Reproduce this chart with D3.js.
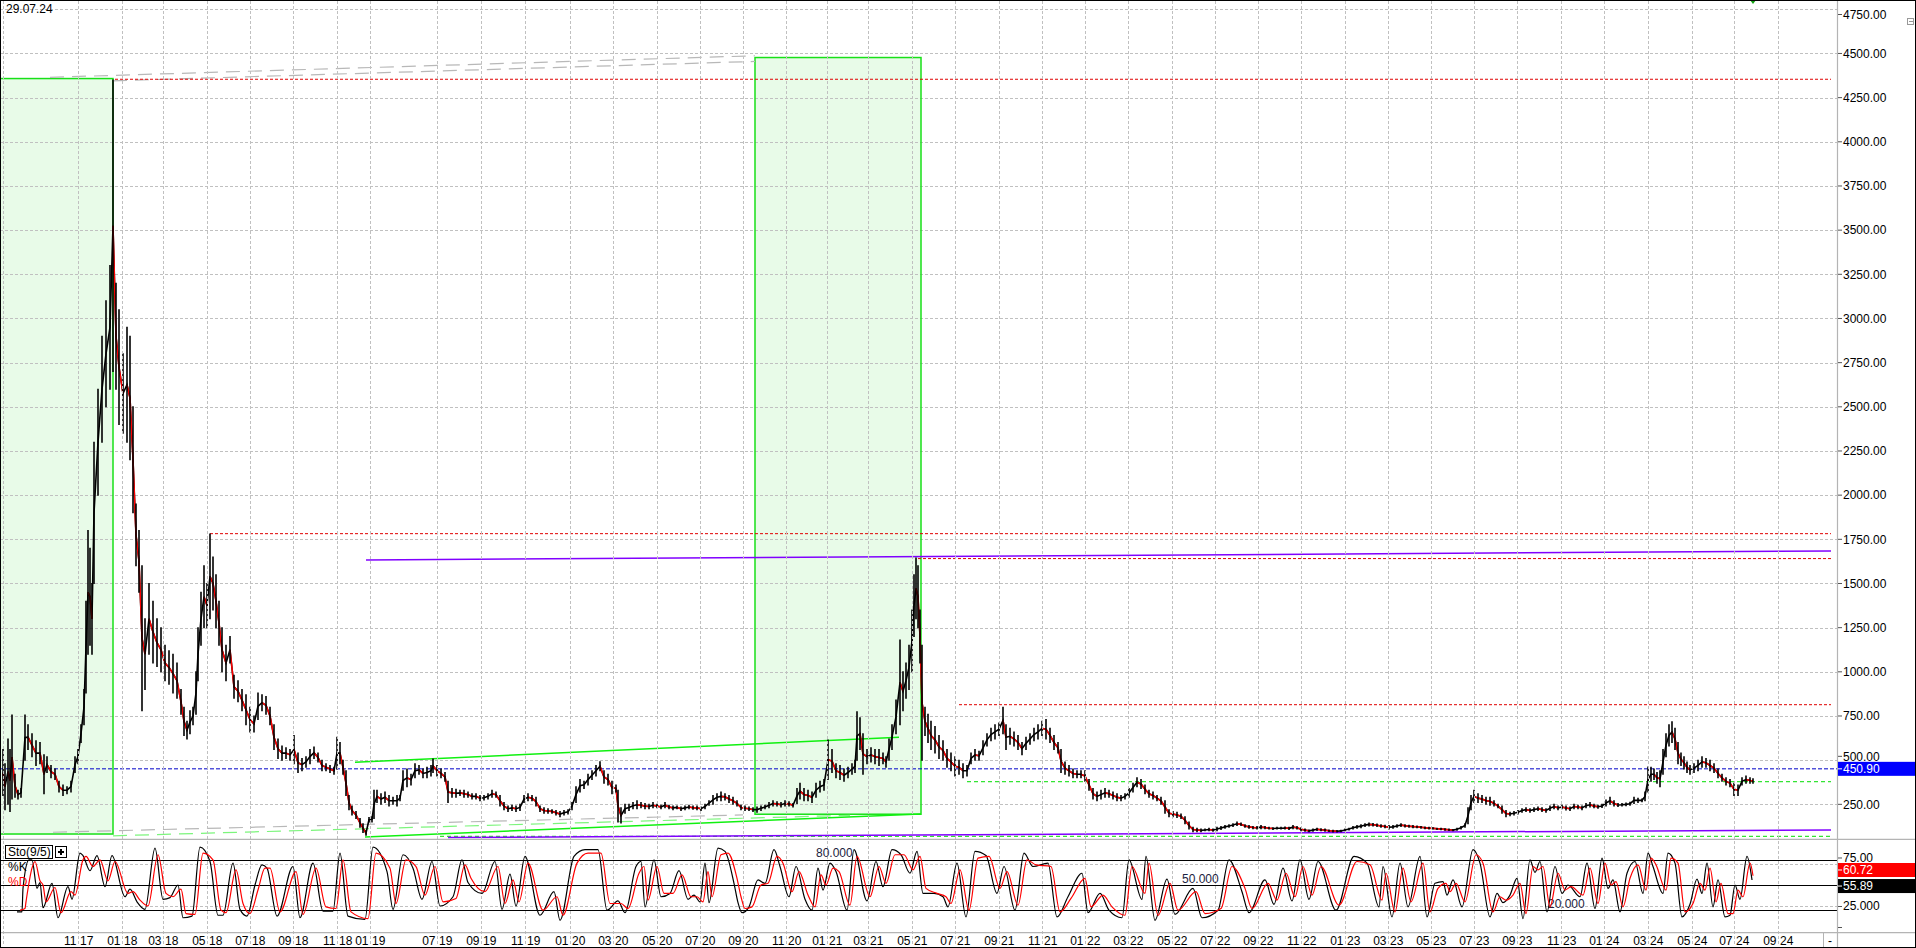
<!DOCTYPE html>
<html><head><meta charset="utf-8">
<script src="https://cdn.jsdelivr.net/npm/d3@7"></script>
<style>
html,body{margin:0;padding:0;background:#fff;overflow:hidden}
svg{display:block;font-family:"Liberation Sans",Arial,sans-serif;font-size:12px}
</style></head><body>
<svg id="c" width="1916" height="948"></svg>
<script>
// ---------------- DATA ----------------
const dateLabel = "29.07.24";
const tickBars = [78,122,163,207,250,293,337,370,437,481,525,570,613,657,700,743,786,827,868,912,955,999,1042,1085,1128,1172,1215,1258,1301,1345,1388,1431,1474,1517,1561,1604,1648,1692,1734,1778];
const tickLabels = ["11 17","01 18","03 18","05 18","07 18","09 18","11 18","01 19","07 19","09 19","11 19","01 20","03 20","05 20","07 20","09 20","11 20","01 21","03 21","05 21","07 21","09 21","11 21","01 22","03 22","05 22","07 22","09 22","11 22","01 23","03 23","05 23","07 23","09 23","11 23","01 24","03 24","05 24","07 24","09 24"];
const extraGridBars = [3];
const priceTicks = [250,500,750,1000,1250,1500,1750,2000,2250,2500,2750,3000,3250,3500,3750,4000,4250,4500,4750];
const stoTicks = [75,25];
const stoLevels = [80,50,20];

// price samples: [bar, high, low]
const price2017_18 = [[3,560,300],[5,480,220],[8,620,250],[10,560,210],[12,756,280],[15,420,290],[18,330,280],[21,340,290],[25,756,500],[28,700,560],[32,650,520],[36,610,470],[40,600,480],[44,530,310],[47,520,430],[51,470,400],[55,450,390],[59,380,320],[63,360,300],[67,350,310],[71,380,320],[75,520,430],[78,560,480],[81,700,600],[84,900,700],[86,1400,880],[88,1800,1100],[90,1700,1150],[92,1500,1100],[94,2300,1500],[98,2600,2000],[102,2900,2300],[106,3100,2500],[110,3300,2600],[113,4350,2700],[116,3200,2600],[119,3050,2400],[123,2800,2350],[127,2950,2300],[130,2900,2200],[133,2500,1900],[136,1950,1600],[139,1800,1450],[142,1600,780],[145,1300,900],[149,1500,1100],[153,1400,1050],[157,1300,1030],[161,1250,1000],[165,1150,950],[169,1120,930],[173,1100,880],[177,1050,850],[181,900,760],[184,800,640],[187,720,620],[190,780,650],[193,800,700],[196,1000,760],[198,1250,950],[201,1450,1150],[204,1600,1250],[207,1500,1250],[210,1780,1300],[213,1650,1350],[216,1550,1250],[219,1400,1150],[222,1250,1000],[226,1150,950],[230,1200,1050],[234,980,850],[238,950,830],[242,900,780],[246,870,700],[250,800,660],[254,750,660],[258,880,730],[262,870,780],[266,860,760],[270,800,700],[274,700,560],[278,620,510],[282,580,500],[286,570,510],[290,560,500],[294,640,480],[298,540,430],[302,510,440],[306,520,460],[310,560,480],[314,575,510],[318,540,490],[322,500,440],[326,480,440],[330,470,430],[334,460,420],[337,630,450],[340,600,480],[343,500,420],[346,440,300],[349,300,220],[352,240,190],[356,210,170],[360,170,120],[363,140,90],[366,100,75]];
const price2019_20 = [[369,175,150],[372,180,150],[374,330,170],[377,330,260],[381,310,250],[385,320,260],[389,300,240],[393,290,250],[397,300,240],[400,300,270],[403,440,330],[407,450,350],[411,420,360],[415,480,400],[419,470,420],[423,450,400],[427,460,400],[431,470,410],[433,507,430],[437,470,410],[441,450,400],[445,430,380],[448,380,260],[452,340,290],[456,335,290],[460,330,300],[464,330,290],[468,320,290],[472,310,280],[476,310,280],[480,300,270],[484,300,275],[488,310,280],[492,330,290],[496,320,290],[500,300,240],[504,260,220],[508,240,210],[512,245,215],[516,240,210],[520,250,215],[524,300,260],[528,310,270],[532,300,270],[536,290,240],[540,240,210],[544,230,200],[548,225,200],[552,220,200],[556,215,190],[560,210,180],[564,215,190],[568,220,195],[572,260,220],[576,350,260],[580,390,320],[584,380,340],[588,420,360],[592,440,390],[596,470,410],[600,491,440],[604,440,370],[608,420,360],[612,380,310],[616,360,320],[618,330,150],[621,230,144],[625,250,200],[629,250,215],[633,260,225],[637,270,225],[641,260,230],[645,255,225],[649,250,225],[653,260,230],[657,250,230],[661,245,225],[665,260,230],[669,245,225],[673,240,220],[677,240,225],[681,235,215],[685,240,220],[689,245,225],[693,240,222],[697,240,220],[701,235,215],[705,250,225],[709,270,245],[713,300,250],[717,310,270],[721,320,270],[725,310,275],[729,300,260],[733,290,250],[737,270,240],[741,245,220],[745,240,215],[749,235,215],[753,230,210],[757,235,205],[761,240,215],[765,245,225],[769,260,230],[773,270,240],[777,265,240],[781,260,235],[785,270,240],[789,265,240],[793,255,235],[797,340,255],[800,370,280],[804,340,270],[808,330,270],[812,320,260],[816,370,290],[820,380,320],[824,390,330],[828,614,390],[832,560,430],[836,480,400],[840,470,390],[844,450,380],[848,460,400],[852,480,420],[855,500,430],[857,774,500],[860,740,560],[863,650,420],[867,560,480],[871,570,490],[875,560,480],[879,560,470],[883,540,480],[886,520,460],[889,620,500],[892,700,560],[896,840,650],[900,1180,700],[903,1000,780],[906,1050,850],[909,1150,900],[912,1350,1000],[914,1550,1200],[916,1644,1300],[918,1600,1250],[920,1350,1050],[922,1150,500]];
const price2021_22 = [[925,800,640],[928,760,600],[931,720,560],[935,690,540],[939,640,510],[943,610,500],[947,560,460],[951,540,440],[955,520,410],[959,500,420],[963,480,400],[967,470,410],[971,540,480],[975,560,500],[979,550,500],[983,610,530],[987,650,580],[991,680,610],[995,700,620],[999,710,640],[1003,800,650],[1006,700,560],[1010,680,590],[1014,660,580],[1018,640,560],[1022,600,530],[1026,630,560],[1030,650,590],[1034,680,610],[1038,700,620],[1042,720,640],[1046,730,620],[1050,680,600],[1054,640,560],[1058,600,540],[1061,560,430],[1065,490,420],[1069,470,410],[1073,450,400],[1077,440,400],[1081,440,400],[1085,440,380],[1089,390,330],[1093,340,280],[1097,320,270],[1101,330,280],[1105,340,290],[1109,330,290],[1113,320,280],[1117,310,270],[1121,300,270],[1125,310,280],[1129,340,290],[1133,370,320],[1137,400,350],[1141,390,340],[1145,360,310],[1149,330,290],[1153,320,280],[1157,300,270],[1161,290,250],[1165,270,200],[1169,220,180],[1173,210,180],[1177,205,175],[1181,195,170],[1185,180,140],[1189,150,110],[1193,120,95]];
const price2022_24 = [[1197,115,95],[1201,110,95],[1205,110,100],[1209,115,100],[1213,110,98],[1217,120,100],[1221,125,108],[1225,130,115],[1229,135,120],[1233,140,125],[1237,150,130],[1241,145,130],[1245,135,120],[1249,130,115],[1253,125,112],[1257,125,110],[1261,130,112],[1265,125,112],[1269,120,110],[1273,118,108],[1277,120,110],[1281,120,110],[1285,122,110],[1289,120,108],[1293,130,112],[1297,125,110],[1301,118,100],[1305,110,98],[1309,105,95],[1313,110,98],[1317,115,102],[1321,112,100],[1325,110,98],[1329,105,96],[1333,104,94],[1337,102,94],[1341,104,95],[1345,110,100],[1349,115,105],[1353,125,110],[1357,130,115],[1361,135,118],[1365,140,125],[1369,145,128],[1373,142,128],[1377,138,125],[1381,135,120],[1385,132,118],[1389,130,110],[1393,130,115],[1397,135,120],[1401,140,125],[1405,135,122],[1409,132,120],[1413,130,118],[1417,128,118],[1421,125,115],[1425,122,112],[1429,120,110],[1433,118,110],[1437,115,108],[1441,114,106],[1445,112,104],[1449,110,102],[1453,108,100],[1457,115,104],[1461,125,110],[1465,140,120],[1468,230,140],[1471,300,220],[1474,330,260],[1478,310,260],[1482,300,260],[1486,290,250],[1490,290,245],[1494,270,240],[1498,250,230],[1502,240,200],[1506,215,180],[1510,205,185],[1514,210,190],[1518,215,195],[1522,225,205],[1526,230,210],[1530,225,205],[1534,230,210],[1538,235,215],[1542,230,210],[1546,225,205],[1550,240,215],[1554,250,225],[1558,240,220],[1562,245,225],[1566,240,218],[1570,235,215],[1574,250,225],[1578,245,225],[1582,240,220],[1586,255,230],[1590,260,235],[1594,250,230],[1598,245,228],[1602,250,232],[1606,275,240],[1610,290,250],[1614,270,240],[1618,255,238],[1622,255,240],[1626,258,242],[1630,262,245],[1634,290,255],[1638,285,260],[1642,280,265],[1645,320,270],[1648,462,320],[1651,460,380],[1654,450,390],[1657,430,370],[1660,440,350],[1663,560,420],[1666,650,520],[1669,700,580],[1672,718,600],[1675,680,560],[1678,600,480],[1681,540,470],[1684,520,450],[1687,490,430],[1690,470,420],[1694,480,430],[1698,500,440],[1702,520,460],[1706,510,460],[1710,500,440],[1714,480,430],[1718,450,400],[1722,420,380],[1726,400,360],[1730,390,350],[1734,370,300],[1738,360,300],[1742,400,360],[1746,410,370],[1750,400,370],[1753,395,370]];

// stochastic %K and %D : [bar, value]
const stoK1 = [[17,18],[22,18],[23,46],[29,80],[32,80],[37,46],[40,53],[43,23],[52,52],[58,11],[68,48],[72,33],[80,88],[83,85],[90,67],[97,85],[105,48],[112,85],[125,36],[130,45],[137,30],[145,21],[155,94],[163,33],[170,35],[178,50],[183,11],[192,13],[200,95],[210,78],[218,14],[223,14],[233,76],[240,21],[247,13],[255,50],[262,74],[267,70],[277,13],[293,72],[300,11],[313,76],[323,19],[333,19],[340,88],[348,13],[365,9],[373,95],[387,66],[393,21],[403,86],[413,70],[422,33],[432,78],[440,25],[453,36],[462,80],[468,53],[482,40],[495,78],[502,21],[510,63],[516,25]];
const stoK2 = [[525,84],[540,14],[554,42],[560,8],[574,84],[585,92],[598,92],[607,20],[618,31],[625,17],[636,72],[641,78],[645,24],[654,80],[661,36],[670,40],[679,67],[688,33],[694,38],[700,30]];
const stoK3 = [[705,76],[709,29],[718,94],[725,90],[734,52],[738,29],[742,17],[749,24],[758,56],[765,52],[774,92],[780,72],[789,36],[796,72],[805,33],[812,20],[818,70],[823,44],[830,76],[836,66],[847,20],[854,92],[867,31],[876,78],[883,48],[892,92],[901,86],[910,64],[917,90],[923,40],[934,40],[943,36],[948,24],[957,76],[966,12],[975,90],[986,85],[997,40],[1004,72],[1015,20],[1024,88],[1033,72],[1048,76],[1057,12],[1068,36],[1082,64],[1088,17],[1100,40],[1109,20],[1122,11],[1129,80],[1142,33],[1146,84],[1155,8],[1167,57],[1175,15],[1193,46],[1202,11],[1218,20],[1229,80],[1242,42],[1249,17],[1265,56],[1274,27],[1283,70],[1292,31],[1300,80],[1309,33],[1318,78],[1336,20],[1354,84],[1367,76],[1379,24],[1383,72],[1392,12],[1400,76]];
const stoK4 = [[1408,24],[1420,84],[1427,12],[1435,52],[1443,54],[1447,38],[1453,56],[1462,24],[1473,92],[1480,76],[1490,12],[1497,40],[1503,29],[1510,38],[1517,58],[1523,10],[1530,80],[1535,65],[1540,78],[1547,18],[1555,72],[1562,40],[1568,50],[1580,36],[1587,76],[1595,22],[1602,82],[1608,46],[1613,56],[1620,18],[1627,64],[1635,78],[1643,40],[1648,88],[1653,72],[1663,40],[1668,88],[1675,76],[1682,12],[1690,27],[1697,57],[1702,40],[1707,76],[1713,24],[1718,56],[1725,12],[1730,14],[1735,50],[1740,33],[1747,84],[1752,56]];
const stoD1 = [[20,20],[25,22],[26,30],[32,70],[35,78],[40,55],[43,50],[46,30],[55,47],[61,17],[71,42],[75,38],[83,80],[86,84],[93,72],[100,80],[108,55],[115,78],[128,40],[133,42],[140,32],[148,25],[158,86],[166,40],[173,36],[181,45],[186,16],[195,15],[203,88],[213,80],[221,20],[226,17],[236,68],[243,28],[250,16],[258,44],[265,70],[270,70],[280,18],[296,66],[303,15],[316,70],[326,24],[336,22],[343,80],[351,18],[368,10],[376,88],[390,70],[396,28],[406,80],[416,72],[425,38],[435,72],[443,30],[456,34],[465,74],[471,58],[485,42],[498,72],[505,28],[513,56],[519,30]];
const stoD2 = [[528,76],[543,20],[557,36],[563,14],[577,76],[588,88],[601,88],[610,28],[621,28],[628,22],[639,64],[644,72],[648,32],[657,72],[664,40],[673,40],[682,62],[691,36],[697,36],[703,30]];
const stoD3 = [[708,66],[712,36],[721,86],[728,88],[737,58],[741,36],[745,22],[752,24],[761,50],[768,52],[777,84],[783,76],[792,42],[799,66],[808,38],[815,24],[821,62],[826,50],[833,70],[839,66],[850,26],[857,84],[870,36],[879,72],[886,52],[895,86],[904,86],[913,68],[920,84],[926,46],[937,40],[946,36],[951,28],[960,68],[969,20],[978,82],[989,84],[1000,46],[1007,66],[1018,26],[1027,80],[1036,74],[1051,72],[1060,18],[1071,34],[1085,58],[1091,24],[1103,38],[1112,24],[1125,14],[1132,72],[1145,40],[1149,76],[1158,14],[1170,52],[1178,20],[1196,42],[1205,16],[1221,22],[1232,72],[1245,46],[1252,22],[1268,52],[1277,32],[1286,64],[1295,36],[1303,72],[1312,38],[1321,72],[1339,26],[1357,78],[1370,74],[1382,32],[1386,64],[1395,18],[1403,70]];
const stoD4 = [[1411,30],[1423,76],[1430,18],[1438,46],[1446,52],[1450,42],[1456,52],[1465,30],[1476,86],[1483,76],[1493,18],[1500,36],[1506,32],[1513,38],[1520,52],[1526,16],[1533,72],[1538,68],[1543,72],[1550,24],[1558,64],[1565,44],[1571,48],[1583,38],[1590,70],[1598,28],[1605,76],[1611,50],[1616,54],[1623,24],[1630,58],[1638,74],[1646,44],[1651,82],[1656,74],[1666,44],[1671,82],[1678,76],[1685,18],[1693,28],[1700,52],[1705,44],[1710,70],[1716,30],[1721,52],[1728,16],[1733,16],[1738,44],[1743,36],[1750,76],[1753,61]];
const lastK = 55.89, lastD = 60.72, markPrice = 450.90;

// drawing objects in data space
const boxes = [[-6,113,82,4358],[755,921,194,4477]];           // [bar0, bar1, priceLow, priceHigh]
const redLevels = [[115,4354],[210,1782],[918,1641],[959,814]]; // [startBar, price]
const greenLevels = [[967,378],[440,69]];
const purpleLines = [[[366,1633],[1831,1684]],[[448,62],[1831,105]]];
const greenLines = [[[355,488],[899,630]],[[365,65],[921,195]]];
const greyDiag = [[[50,4365],[755,4487]],[[113,4345],[755,4455]],[[53,92],[743,190]]];
const lightGreenDiag = [[[113,72],[850,188]]];
const levelEndBar = 1831;

// ---------------- LAYOUT ----------------
const W = 1916, H = 948;
const plotR = 1837, mainB = 839.3, stoT = 839.3, stoB = 932.7;
const x = d3.scaleLinear().domain([0, 1837]).range([0, plotR]);
const y = d3.scaleLinear().domain([0, 4750]).range([848.5, 9.3]);
const ys = d3.scaleLinear().domain([0, 100]).range([927, 843]);

const svg = d3.select('#c');
svg.append('rect').attr('width', W).attr('height', H).attr('fill', '#fff');
const defs = svg.append('defs');
defs.append('clipPath').attr('id', 'cm').append('rect').attr('x', 1).attr('y', 1).attr('width', plotR - 1).attr('height', mainB - 1);
defs.append('clipPath').attr('id', 'cs').append('rect').attr('x', 1).attr('y', stoT + 0.5).attr('width', plotR - 1).attr('height', stoB - stoT - 1);

const gm = svg.append('g').attr('clip-path', 'url(#cm)');
const GRID = '#c0c0c0';

// box fills
gm.selectAll('rect.bf').data(boxes).join('rect')
  .attr('x', d => x(d[0])).attr('y', d => y(d[3]))
  .attr('width', d => x(d[1]) - x(d[0])).attr('height', d => y(d[2]) - y(d[3]))
  .attr('fill', '#e8fbe8');

// horizontal grid
gm.selectAll('line.hg').data(priceTicks).join('line')
  .attr('x1', 0).attr('x2', plotR).attr('y1', d => Math.round(y(d)) + 0.5).attr('y2', d => Math.round(y(d)) + 0.5)
  .attr('stroke', GRID).attr('stroke-dasharray', '3,2');

// vertical grid (all panels)
const allGrid = extraGridBars.concat(tickBars);
svg.append('g').selectAll('line').data(allGrid).join('line')
  .attr('x1', d => Math.round(x(d)) + 0.5).attr('x2', d => Math.round(x(d)) + 0.5)
  .attr('y1', 1).attr('y2', 946)
  .attr('stroke', GRID).attr('stroke-dasharray', '3,2');

// box borders
gm.selectAll('rect.bb').data(boxes).join('rect')
  .attr('x', d => x(d[0])).attr('y', d => y(d[3]))
  .attr('width', d => x(d[1]) - x(d[0])).attr('height', d => y(d[2]) - y(d[3]))
  .attr('fill', 'none').attr('stroke', '#18e018').attr('stroke-width', 1.5);

// diagonal dashed lines
gm.selectAll('line.gd').data(greyDiag).join('line')
  .attr('x1', d => x(d[0][0])).attr('y1', d => y(d[0][1])).attr('x2', d => x(d[1][0])).attr('y2', d => y(d[1][1]))
  .attr('stroke', '#b8b8b8').attr('stroke-width', 1.2).attr('stroke-dasharray', '14,8');
gm.selectAll('line.lg').data(lightGreenDiag).join('line')
  .attr('x1', d => x(d[0][0])).attr('y1', d => y(d[0][1])).attr('x2', d => x(d[1][0])).attr('y2', d => y(d[1][1]))
  .attr('stroke', '#7cf57c').attr('stroke-width', 1.2).attr('stroke-dasharray', '14,8');

// level lines
gm.selectAll('line.rl').data(redLevels).join('line')
  .attr('x1', d => x(d[0])).attr('x2', x(levelEndBar)).attr('y1', d => y(d[1])).attr('y2', d => y(d[1]))
  .attr('stroke', '#e00000').attr('stroke-dasharray', '3,2');
gm.selectAll('line.gl').data(greenLevels).join('line')
  .attr('x1', d => x(d[0])).attr('x2', x(levelEndBar)).attr('y1', d => y(d[1])).attr('y2', d => y(d[1]))
  .attr('stroke', '#00dd00').attr('stroke-dasharray', '4,3');
gm.append('line').attr('x1', 0).attr('x2', plotR).attr('y1', y(markPrice)).attr('y2', y(markPrice))
  .attr('stroke', '#0000c8').attr('stroke-dasharray', '4,2');

// trend lines
gm.selectAll('line.pl').data(purpleLines).join('line')
  .attr('x1', d => x(d[0][0])).attr('y1', d => y(d[0][1])).attr('x2', d => x(d[1][0])).attr('y2', d => y(d[1][1]))
  .attr('stroke', '#8000ff').attr('stroke-width', 1.5);
gm.selectAll('line.gr').data(greenLines).join('line')
  .attr('x1', d => x(d[0][0])).attr('y1', d => y(d[0][1])).attr('x2', d => x(d[1][0])).attr('y2', d => y(d[1][1]))
  .attr('stroke', '#10f010').attr('stroke-width', 1.5);

// price: mid line, red on falling stretches, black high-low whiskers
const price = [].concat(price2017_18, price2019_20, price2021_22, price2022_24);
const mid = d => (d[1] + d[2]) / 2;
const midLine = d3.line().x(d => x(d[0])).y(d => y(mid(d)));
gm.append('path').attr('d', midLine(price)).attr('fill', 'none').attr('stroke', '#000').attr('stroke-width', 1.6);
const redSegs = [];
for (let i = 1; i < price.length; i++) if (mid(price[i]) < mid(price[i - 1])) redSegs.push([price[i - 1], price[i]]);
gm.selectAll('line.rd').data(redSegs).join('line')
  .attr('x1', d => x(d[0][0])).attr('y1', d => y(mid(d[0]))).attr('x2', d => x(d[1][0])).attr('y2', d => y(mid(d[1])))
  .attr('stroke', '#ff0000').attr('stroke-width', 1.5);
gm.selectAll('line.wk').data(price).join('line')
  .attr('x1', d => x(d[0])).attr('x2', d => x(d[0]))
  .attr('y1', d => y(d[1]) - 0.5).attr('y2', d => y(d[2]) + 0.5)
  .attr('stroke', '#000').attr('stroke-width', 1.6);

// top marker (last bar)
const lastBar = price[price.length - 1][0];
svg.append('path').attr('d', `M${x(lastBar) - 3},0 L${x(lastBar) + 3},0 L${x(lastBar)},4 Z`).attr('fill', '#10a010');

// date label
svg.append('text').attr('x', 6).attr('y', 12.5).attr('fill', '#000').text(dateLabel);

// ---------------- STOCHASTIC ----------------
const gs = svg.append('g').attr('clip-path', 'url(#cs)');
gs.selectAll('line.sg').data(stoTicks).join('line')
  .attr('x1', 0).attr('x2', plotR).attr('y1', d => Math.round(ys(d)) + 0.5).attr('y2', d => Math.round(ys(d)) + 0.5)
  .attr('stroke', GRID).attr('stroke-dasharray', '3,2');
gs.selectAll('line.sl').data(stoLevels).join('line')
  .attr('x1', 0).attr('x2', plotR).attr('y1', d => Math.round(ys(d)) + 0.5).attr('y2', d => Math.round(ys(d)) + 0.5)
  .attr('stroke', '#000').attr('stroke-width', 1);
const levelLabelBars = [[80, 816], [50, 1182], [20, 1548]];
gs.selectAll('text.ll').data(levelLabelBars).join('text')
  .attr('x', d => x(d[1])).attr('y', d => ys(d[0]) - 2.5).attr('fill', '#1c2340')
  .text(d => d3.format('.3f')(d[0]));
const sline = d3.line().curve(d3.curveMonotoneX).x(d => x(d[0])).y(d => ys(d[1]));
const stoK = [].concat(stoK1, stoK2, stoK3, stoK4);
const stoD = [].concat(stoD1, stoD2, stoD3, stoD4);
gs.append('path').attr('d', sline(stoK)).attr('fill', 'none').attr('stroke', '#000').attr('stroke-width', 1.2);
gs.append('path').attr('d', sline(stoD)).attr('fill', 'none').attr('stroke', '#ff0000').attr('stroke-width', 1.2);

// Sto(9/5) legend
svg.append('rect').attr('x', 5.5).attr('y', 845.5).attr('width', 47).attr('height', 13).attr('fill', '#fff').attr('stroke', '#000');
svg.append('text').attr('x', 8).attr('y', 856).attr('fill', '#000').text('Sto(9/5)');
svg.append('rect').attr('x', 55.5).attr('y', 846.5).attr('width', 11).attr('height', 11).attr('fill', '#fff').attr('stroke', '#000');
svg.append('path').attr('d', 'M58,852 L64,852 M61,849 L61,855').attr('stroke', '#000').attr('stroke-width', 2);
svg.append('text').attr('x', 8).attr('y', 871).attr('fill', '#000').text('%K');
svg.append('text').attr('x', 8).attr('y', 886).attr('fill', '#ff0000').text('%D');

// ---------------- FRAME / AXES ----------------
svg.append('line').attr('x1', 0).attr('x2', W).attr('y1', mainB).attr('y2', mainB).attr('stroke', '#b4b4b4').attr('stroke-width', 1.2);
svg.append('line').attr('x1', 0).attr('x2', W).attr('y1', stoB).attr('y2', stoB).attr('stroke', '#b4b4b4').attr('stroke-width', 1.2);
svg.append('line').attr('x1', plotR + 0.5).attr('x2', plotR + 0.5).attr('y1', 0).attr('y2', H).attr('stroke', '#b4b4b4').attr('stroke-width', 1.2);
svg.append('line').attr('x1', 1823.5).attr('x2', 1823.5).attr('y1', stoB).attr('y2', H).attr('stroke', '#b4b4b4');
svg.append('text').attr('x', 1830).attr('y', 944.5).attr('text-anchor', 'middle').attr('fill', '#000').text('-');

// value boxes (positions derived from the values)
const boxMark = y(markPrice), boxD = ys(lastD) - 6, boxK = ys(lastK) + 6;
// keep axis labels clear of the value boxes (nudge up when they would collide)
function labelY(cy) {
  let v = Math.max(cy, 14.5);
  [boxMark, boxD].forEach(b => { if (Math.abs(v - b) < 12.5 && v < b + 2) v = b - 12.5; });
  return v;
}

// right price axis
const ya = svg.append('g');
ya.selectAll('line').data(priceTicks).join('line')
  .attr('x1', plotR + 1).attr('x2', plotR + 5)
  .attr('y1', d => labelY(y(d))).attr('y2', d => labelY(y(d))).attr('stroke', '#555');
ya.selectAll('text').data(priceTicks).join('text')
  .attr('x', plotR + 6).attr('y', d => labelY(y(d)) + 4.3).attr('fill', '#000')
  .text(d => d3.format('.2f')(d));
// sto axis
const sa = svg.append('g');
sa.selectAll('line').data(stoTicks.concat([0])).join('line')
  .attr('x1', plotR + 1).attr('x2', plotR + 5).attr('y1', d => labelY(ys(d)) + 0.5).attr('y2', d => labelY(ys(d)) + 0.5).attr('stroke', '#555');
sa.selectAll('text').data(stoTicks).join('text')
  .attr('x', plotR + 6).attr('y', d => labelY(ys(d)) + 4.3).attr('fill', '#000')
  .text(d => d === 25 ? d3.format('.3f')(d) : d3.format('.2f')(d));

function valBox(cy, bg, label) {
  svg.append('rect').attr('x', plotR + 1).attr('y', cy - 7).attr('width', W - plotR - 2).attr('height', 14).attr('fill', bg);
  svg.append('line').attr('x1', plotR + 1).attr('x2', plotR + 5).attr('y1', cy).attr('y2', cy).attr('stroke', '#fff');
  svg.append('text').attr('x', plotR + 6).attr('y', cy + 4.3).attr('fill', '#fff').text(label);
}
valBox(boxMark, '#0000ff', d3.format('.2f')(markPrice));
valBox(boxD, '#ff0000', d3.format('.2f')(lastD));
valBox(boxK, '#000000', d3.format('.2f')(lastK));

// small collapse icon
svg.append('rect').attr('x', 1907.5).attr('y', 18.5).attr('width', 6).attr('height', 6).attr('fill', '#fff').attr('stroke', '#999');
svg.append('line').attr('x1', 1909).attr('x2', 1913).attr('y1', 21.5).attr('y2', 21.5).attr('stroke', '#999');

// x-axis labels
const xl = svg.append('g');
tickBars.forEach((b, i) => {
  const parts = tickLabels[i].split(' ');
  xl.append('text').attr('x', x(b) - 1.5).attr('y', 944.5).attr('text-anchor', 'end').attr('fill', '#000').text(parts[0]);
  xl.append('text').attr('x', x(b) + 2).attr('y', 944.5).attr('text-anchor', 'start').attr('fill', '#000').text(parts[1]);
});

// outer frame
svg.append('rect').attr('x', 0.5).attr('y', 0.5).attr('width', W - 1).attr('height', H - 1).attr('fill', 'none').attr('stroke', '#000');
</script>
</body></html>
